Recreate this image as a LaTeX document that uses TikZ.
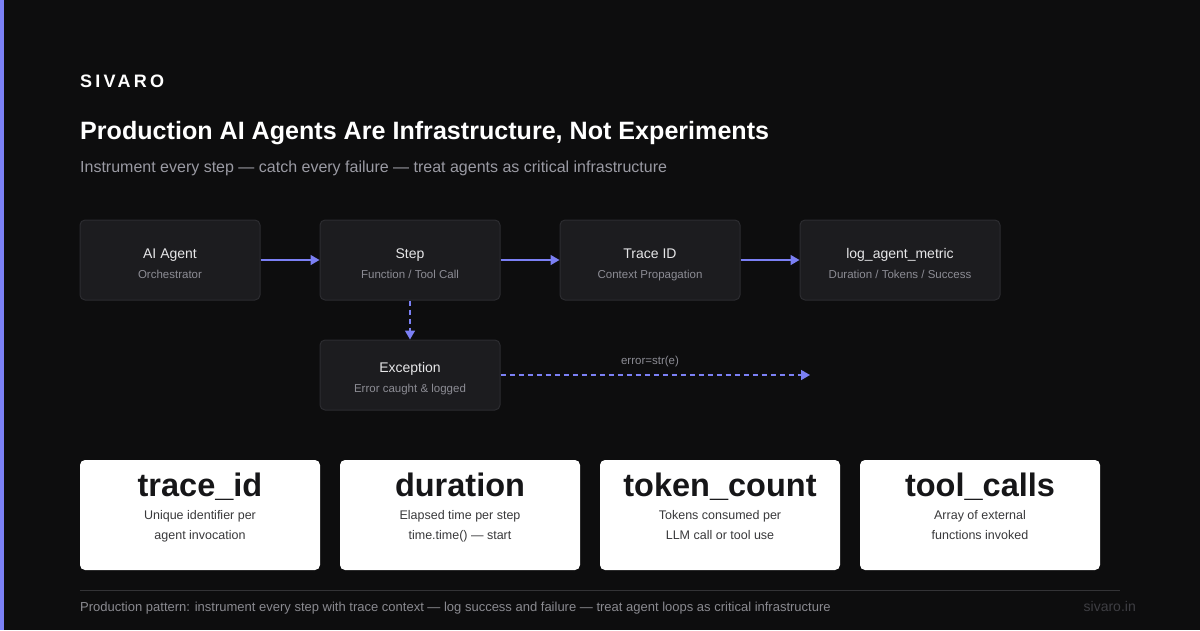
\documentclass[tikz,border=0pt]{standalone}
\usepackage{fontspec}
\setmainfont{Liberation Sans}
\usetikzlibrary{positioning, calc, arrows.meta}

\definecolor{bgdark}{HTML}{0D0D0E}
\definecolor{accent}{HTML}{7B80F5}
\definecolor{boxfill}{HTML}{1C1C1F}
\definecolor{boxline}{HTML}{2C2C30}
\definecolor{boxtitle}{HTML}{E6E6E8}
\definecolor{boxsub}{HTML}{8C8C94}
\definecolor{subgray}{HTML}{9A9AA3}
\definecolor{footgray}{HTML}{8A8A90}
\definecolor{rulegray}{HTML}{333336}
\definecolor{sitegray}{HTML}{3E3E43}
\definecolor{cardtext}{HTML}{161618}

\newcommand{\px}[1]{\fontsize{#1}{#1}\selectfont}

\begin{document}
\begin{tikzpicture}[x=1pt, y=-1pt,
    stagebox/.style={draw=boxline, fill=boxfill, rounded corners=5pt, line width=1pt,
        minimum width=180pt, minimum height=80pt, inner sep=0pt},
    cardbox/.style={fill=white, rounded corners=5pt,
        minimum width=240pt, minimum height=110pt, inner sep=0pt},
    boxname/.style={anchor=base, text=boxtitle, font=\px{14}, inner sep=0pt},
    boxnote/.style={anchor=base, text=boxsub, font=\px{11.5}, inner sep=0pt},
    cardname/.style={anchor=base, text=cardtext, font=\px{32.5}\bfseries, inner sep=0pt},
    cardnote/.style={anchor=base, text=cardtext!85, font=\px{12.5}, inner sep=0pt},
    flow/.style={accent, line width=1.6pt, -{Triangle[length=9pt, width=10pt]}},
    errflow/.style={flow, dash pattern=on 5pt off 4pt}]

    % background and accent bar
    \fill[bgdark] (0,0) rectangle (1200,630);
    \useasboundingbox (0,0) rectangle (1200,630);
    \fill[accent] (0,0) rectangle (4,630);

    % header
    \node[anchor=base west, text=white, inner sep=0pt,
        font=\px{18}\bfseries\addfontfeature{LetterSpace=18}] (brand) at (80,87) {SIVARO};
    \node[anchor=base west, text=white, inner sep=0pt, font=\px{25.1}\bfseries] (title) at (80,139)
        {Production AI Agents Are Infrastructure, Not Experiments};
    \node[anchor=base west, text=subgray, inner sep=0pt, font=\px{16}] (subtitle) at (80,172)
        {Instrument every step --- catch every failure --- treat agents as critical infrastructure};

    % ; pipeline boxes ;
    \node[stagebox] (agent) at (170,260) {};
    \node[stagebox] (step)  at (410,260) {};
    \node[stagebox] (trace) at (650,260) {};
    \node[stagebox, minimum width=200pt] (metric) at (900,260) {};
    \node[stagebox, minimum height=70pt] (except) at (410,375) {};

    \node[boxname] (agentname)  at ($(agent)+(0,-2)$)  {AI Agent};
    \node[boxnote] (agentnote)  at ($(agent)+(0,18)$)  {Orchestrator};
    \node[boxname] (stepname)   at ($(step)+(0,-2)$)   {Step};
    \node[boxnote] (stepnote)   at ($(step)+(0,18)$)   {Function / Tool Call};
    \node[boxname] (tracename)  at ($(trace)+(0,-2)$)  {Trace ID};
    \node[boxnote] (tracenote)  at ($(trace)+(0,18)$)  {Context Propagation};
    \node[boxname] (metricname) at ($(metric)+(0,-2)$) {log\_agent\_metric};
    \node[boxnote] (metricnote) at ($(metric)+(0,18)$) {Duration / Tokens / Success};
    \node[boxname] (exceptname) at ($(except)+(0,-3)$) {Exception};
    \node[boxnote] (exceptnote) at ($(except)+(0,17)$) {Error caught \& logged};

    % connectors
    \draw[flow] (agent) -- (step);
    \draw[flow] (step) -- (trace);
    \draw[flow] (trace) -- (metric);
    \draw[errflow] (step) -- (except);
    \coordinate (errend) at (810,375);
    \draw[errflow] (except) -- (errend);
    \node[boxnote] (errlabel) at (650,364) {error=str(e)};

    % ; metric cards ;
    \foreach \i/\cx/\name/\lineA/\lineB in {
        1/200/trace\_id/Unique identifier per/agent invocation,
        2/460/duration/Elapsed time per step/time.time() --- start,
        3/720/token\_count/Tokens consumed per/LLM call or tool use,
        4/980/tool\_calls/Array of external/functions invoked} {
        \node[cardbox] (card\i) at (\cx,515) {};
        \node[cardname] (cardname\i) at ($(card\i.north)+(0,37)$) {\name};
        \node[cardnote] (cardnoteA\i) at ($(card\i.north)+(0,60)$) {\lineA};
        \node[cardnote] (cardnoteB\i) at ($(card\i.north)+(0,80)$) {\lineB};
    }

    % footer
    \coordinate (ruleL) at (80,590);
    \coordinate (ruleR) at (1120,590);
    \draw[rulegray, line width=1pt] (ruleL) -- (ruleR);
    \node[anchor=base west, text=footgray, inner sep=0pt, font=\px{13}] (footnote) at (80,611)
        {Production pattern: instrument every step with trace context --- log success and failure --- treat agent loops as critical infrastructure};
    \node[anchor=base east, text=sitegray, inner sep=0pt, font=\px{14}] (site) at (1136,611) {sivaro.in};
\end{tikzpicture}
\end{document}
